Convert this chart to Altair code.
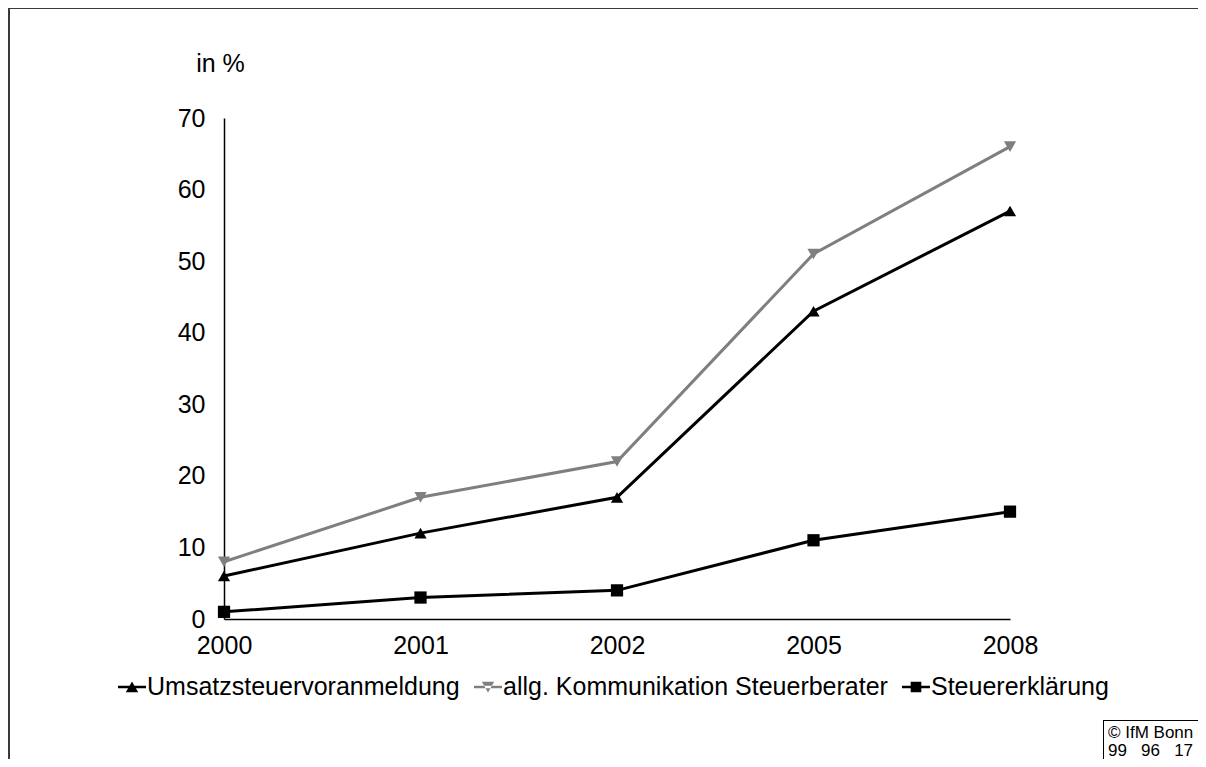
import altair as alt
import pandas as pd

years = ["2000", "2001", "2002", "2005", "2008"]
series = ["Umsatzsteuervoranmeldung", "allg. Kommunikation Steuerberater", "Steuererklärung"]
umsatz = [6, 12, 17, 43, 57]
kommunikation = [8, 17, 22, 51, 66]
erklaerung = [1, 3, 4, 11, 15]
colors = ["#000000", "#7f7f7f", "#000000"]
shapes = ["triangle-up", "triangle-down", "square"]

rows = []
for name, vals in zip(series, [umsatz, kommunikation, erklaerung]):
    for y, v in zip(years, vals):
        rows.append({"Jahr": y, "Serie": name, "Wert": v})
df = pd.DataFrame(rows)

FONT = "Liberation Sans"
FS = 25

x_enc = alt.X("Jahr:O", sort=years,
              scale=alt.Scale(type="point", padding=0),
              axis=alt.Axis(title=None, labelAngle=0, ticks=False, domainColor="#000000",
                            domainWidth=1.5, labelFontSize=FS, labelFont=FONT,
                            labelColor="#000000", labelPadding=14, grid=False))
y_enc = alt.Y("Wert:Q", scale=alt.Scale(domain=[0, 70], nice=False),
              axis=alt.Axis(values=[0, 10, 20, 30, 40, 50, 60, 70], ticks=False,
                            domainColor="#000000", domainWidth=1.5, grid=False,
                            labelFontSize=FS, labelFont=FONT, labelColor="#000000",
                            labelPadding=19, title="in %", titleAngle=0,
                            titleAlign="center", titleBaseline="middle",
                            titleX=-4, titleY=-55, titleFontSize=FS,
                            titleFontWeight="normal", titleFont=FONT,
                            titleColor="#000000"))

color_scale = alt.Scale(domain=series, range=colors)

base = alt.Chart(df)

lines = base.mark_line(strokeWidth=3).encode(
    x=x_enc, y=y_enc,
    color=alt.Color("Serie:N", scale=color_scale, legend=None),
    detail="Serie:N",
)

points = base.mark_point(filled=True, opacity=1).encode(
    x=x_enc, y=y_enc,
    color=alt.Color("Serie:N", scale=color_scale, legend=None),
    shape=alt.Shape("Serie:N", scale=alt.Scale(domain=series, range=shapes), legend=None),
    size=alt.Size("Serie:N", scale=alt.Scale(domain=series, range=[150, 150, 165]), legend=None),
)

legend_paths = [
    "M-1,-0.09H1V0.09H-1Z M0,-0.4L0.44,0.38H-0.44Z",
    "M-1,-0.09H1V0.09H-1Z M0,0.4L0.44,-0.38H-0.44Z",
    "M-1,-0.09H1V0.09H-1Z M-0.38,-0.38H0.38V0.38H-0.38Z",
]

legend_cfg = dict(title=None, orient="none", direction="horizontal",
                  legendX=-106, legendY=555, labelFont=FONT,
                  labelFontSize=FS, labelColor="#000000", labelLimit=0,
                  labelOffset=1, columnPadding=14,
                  symbolSize=784, symbolStrokeWidth=0)

legend_layer = base.transform_filter("false").mark_point(filled=True, opacity=1, size=784).encode(
    x=x_enc, y=y_enc,
    color=alt.Color("Serie:N", scale=alt.Scale(domain=series, range=colors),
                    legend=alt.Legend(**legend_cfg)),
    shape=alt.Shape("Serie:N", scale=alt.Scale(domain=series, range=legend_paths),
                    legend=alt.Legend(**legend_cfg)),
)

# decorative frame and copyright box
one = pd.DataFrame({"a": [0]})
frame_left = alt.Chart(one).mark_rule(color="#3a3a3a", strokeWidth=2).encode(
    x=alt.value(-215), y=alt.value(-110), y2=alt.value(641))
frame_top = alt.Chart(one).mark_rule(color="#3a3a3a", strokeWidth=2).encode(
    x=alt.value(-216), x2=alt.value(974), y=alt.value(-110))
box_left = alt.Chart(one).mark_rule(color="#000000", strokeWidth=1).encode(
    x=alt.value(879.5), y=alt.value(602), y2=alt.value(641))
box_top = alt.Chart(one).mark_rule(color="#000000", strokeWidth=1).encode(
    x=alt.value(879), x2=alt.value(974), y=alt.value(602.5))
copyright = alt.Chart(one).mark_text(
    align="left", baseline="middle", font=FONT, fontSize=17, lineBreak="\n",
    lineHeight=18, color="#000000").encode(
    x=alt.value(884), y=alt.value(615),
    text=alt.value("© IfM Bonn\n99\u00a0\u00a0 96\u00a0\u00a0 17"))

chart = alt.layer(
    alt.layer(lines, points),
    legend_layer,
    frame_left, frame_top, box_left, box_top, copyright,
).resolve_scale(color="independent", shape="independent").properties(
    width=786, height=501,
    autosize=alt.AutoSizeParams(type="none"),
    padding={"left": 216, "top": 110, "right": 188, "bottom": 140},
    background="#ffffff",
).configure_view(strokeWidth=0, stroke="transparent")

chart.save("out.html", embed_options={"renderer": "svg", "actions": False})
